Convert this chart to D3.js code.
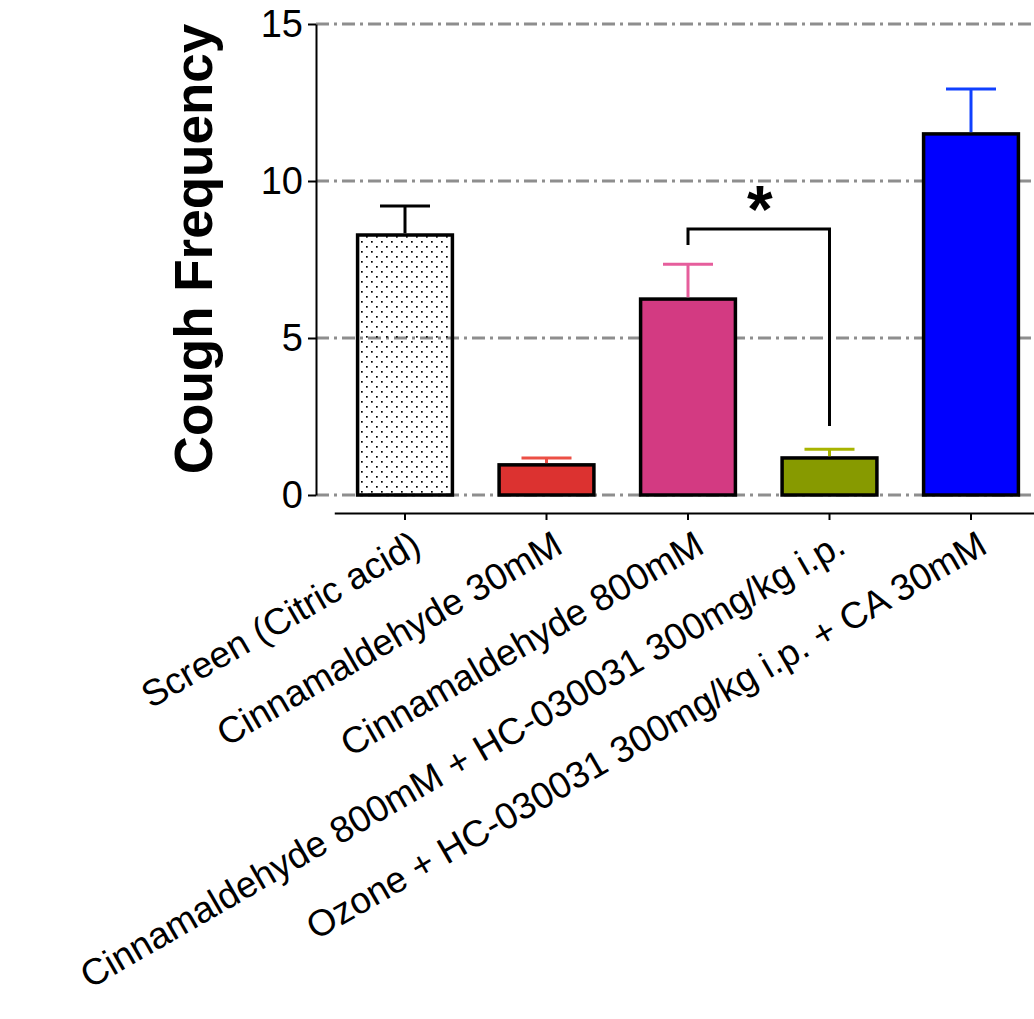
<!DOCTYPE html>
<html><head><meta charset="utf-8">
<script src="https://cdn.jsdelivr.net/npm/d3@7"></script>
<style>body{margin:0;background:#fff;overflow:hidden}</style>
</head><body><svg id="c" width="1034" height="1019"></svg>
<script>
const categories = [
  "Screen (Citric acid)",
  "Cinnamaldehyde 30mM",
  "Cinnamaldehyde 800mM",
  "Cinnamaldehyde 800mM + HC-030031 300mg/kg i.p.",
  "Ozone + HC-030031 300mg/kg i.p. + CA 30mM"
];
const means = [8.28, 0.96, 6.24, 1.18, 11.5];
const errors = [0.92, 0.22, 1.11, 0.28, 1.43];
const fillColors = ["url(#dots)", "#dc3230", "#d33a82", "#879a00", "#0000ff"];
const errorColors = ["#000000", "#ec4f45", "#e65e9c", "#a8b400", "#1040ff"];
const yTicks = [0, 5, 10, 15];
const sigPair = [2, 3];
const sigBracket = [7.96, 8.47, 2.2];
const sigLabel = "*";
const yTitle = "Cough Frequency";

const svg = d3.select("#c");
const W = 1034, H = 1019;
const axisX = 316, axisY = 513;
const font = "'Liberation Sans', Arial, Helvetica, sans-serif";

const defs = svg.append("defs");
const pat = defs.append("pattern").attr("id", "dots").attr("patternUnits", "userSpaceOnUse")
  .attr("width", 10).attr("height", 10);
pat.append("rect").attr("x", 1).attr("y", 1).attr("width", 1.7).attr("height", 1.7).attr("fill", "#000");
pat.append("rect").attr("x", 6).attr("y", 6).attr("width", 1.7).attr("height", 1.7).attr("fill", "#000");

const y = d3.scaleLinear().domain([0, 15]).range([495, 24]);
const x = d3.scaleBand().domain(categories).range([334.25, 1041.75]).paddingInner(0.33).paddingOuter(0.165);

// gridlines
svg.append("g").selectAll("line").data(yTicks).join("line")
  .attr("x1", axisX).attr("x2", W)
  .attr("y1", d => y(d)).attr("y2", d => y(d))
  .attr("stroke", "#8e8e8e").attr("stroke-width", 3)
  .attr("stroke-dasharray", "13,5,3,5");

// bars
svg.append("g").selectAll("rect").data(categories).join("rect")
  .attr("x", d => x(d)).attr("width", x.bandwidth())
  .attr("y", (d, i) => y(means[i])).attr("height", (d, i) => y(0) - y(means[i]))
  .attr("fill", (d, i) => fillColors[i])
  .attr("stroke", "#000").attr("stroke-width", 3.5);

// error bars
const eb = svg.append("g");
categories.forEach((c, i) => {
  const cx = x(c) + x.bandwidth() / 2;
  eb.append("line").attr("x1", cx).attr("x2", cx)
    .attr("y1", y(means[i]) - 1.75).attr("y2", y(means[i] + errors[i]))
    .attr("stroke", errorColors[i]).attr("stroke-width", 3);
  eb.append("line").attr("x1", cx - 25).attr("x2", cx + 25)
    .attr("y1", y(means[i] + errors[i])).attr("y2", y(means[i] + errors[i]))
    .attr("stroke", errorColors[i]).attr("stroke-width", 3);
});

// y axis
const yAxis = svg.append("g").attr("transform", `translate(${axisX},0)`)
  .call(d3.axisLeft(y).tickValues(yTicks).tickSize(8).tickSizeOuter(0).tickPadding(5));
yAxis.select(".domain").attr("stroke", "#000").attr("stroke-width", 2);
yAxis.selectAll(".tick line").attr("stroke", "#000").attr("stroke-width", 2);
yAxis.selectAll(".tick text").attr("font-family", font).attr("font-size", 38).attr("fill", "#000");

// x axis
const xAxis = svg.append("g").attr("transform", `translate(0,${axisY})`)
  .call(d3.axisBottom(x).tickSize(7).tickSizeOuter(0));
xAxis.select(".domain").attr("stroke", "#000").attr("stroke-width", 2);
xAxis.selectAll(".tick line").attr("stroke", "#000").attr("stroke-width", 2);
xAxis.selectAll(".tick text")
  .attr("font-family", font).attr("font-size", 37).attr("fill", "#000")
  .attr("text-anchor", "end")
  .attr("x", 0).attr("y", 0).attr("dy", "0.71em")
  .attr("transform", "translate(5,16) rotate(-30)");

// y title
svg.append("text")
  .attr("transform", "translate(212,249) rotate(-90)")
  .attr("text-anchor", "middle")
  .attr("font-family", font).attr("font-weight", "bold").attr("font-size", 53)
  .text(yTitle);

// significance bracket
const x1 = x(categories[sigPair[0]]) + x.bandwidth() / 2;
const x2 = x(categories[sigPair[1]]) + x.bandwidth() / 2;
svg.append("path")
  .attr("d", `M${x1},${y(sigBracket[0])}V${y(sigBracket[1])}H${x2}V${y(sigBracket[2])}`)
  .attr("fill", "none").attr("stroke", "#000").attr("stroke-width", 3);
svg.append("text")
  .attr("x", (x1 + x2) / 2 + 1).attr("y", y(sigBracket[1]) + 3)
  .attr("text-anchor", "middle")
  .attr("font-family", font).attr("font-weight", "bold").attr("font-size", 66)
  .text(sigLabel);
</script></body></html>
